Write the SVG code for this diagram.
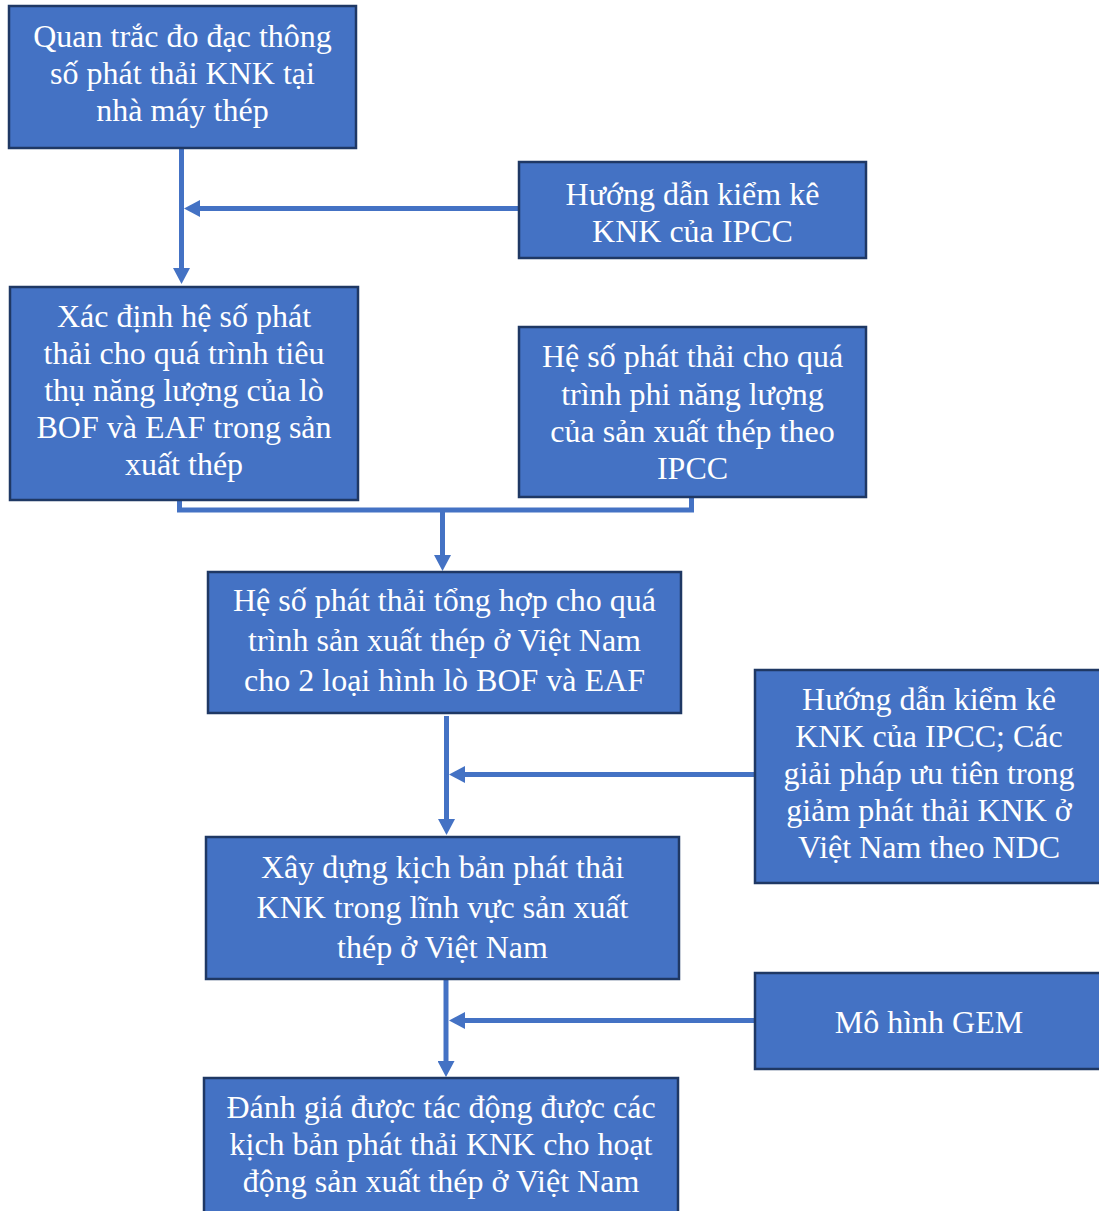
<svg xmlns="http://www.w3.org/2000/svg" width="1099" height="1211" viewBox="0 0 1099 1211">
  <style>
    .box { fill: #4472C4; stroke: #1F3864; stroke-width: 2.5; }
    .lbl { fill: #FFFFFF; font-family: "Liberation Serif", "Times New Roman", serif; font-size: 32px; text-anchor: middle; }
    .conn { fill: none; stroke: #4472C4; stroke-width: 5; }
  </style>
  <defs>
    <marker id="head" viewBox="0 0 16 17" refX="1" refY="8.5" markerWidth="16" markerHeight="17" markerUnits="userSpaceOnUse" orient="auto">
      <path d="M0,0 L16,8.5 L0,17 Z" fill="#4472C4"/>
    </marker>
  </defs>
  <rect width="1099" height="1211" fill="#FFFFFF"/>

  <g id="connectors">
    <line class="conn" x1="181.5" y1="149" x2="181.5" y2="269" marker-end="url(#head)"/>
    <line class="conn" x1="519" y1="208.5" x2="199" y2="208.5" marker-end="url(#head)"/>
    <path class="conn" d="M179.5,500 V510 H691.5 V498"/>
    <line class="conn" x1="442.5" y1="510" x2="442.5" y2="556" marker-end="url(#head)"/>
    <line class="conn" x1="446.5" y1="716" x2="446.5" y2="820" marker-end="url(#head)"/>
    <line class="conn" x1="755" y1="774.5" x2="464" y2="774.5" marker-end="url(#head)"/>
    <line class="conn" x1="446" y1="980" x2="446" y2="1062" marker-end="url(#head)"/>
    <line class="conn" x1="755" y1="1020.5" x2="464" y2="1020.5" marker-end="url(#head)"/>
  </g>

  <g id="quan-trac">
    <rect class="box" x="9" y="6" width="347" height="142"/>
    <text class="lbl"><tspan x="182.5" y="47">Quan trắc đo đạc thông</tspan><tspan x="182.5" y="84">số phát thải KNK tại</tspan><tspan x="182.5" y="121">nhà máy thép</tspan></text>
  </g>

  <g id="huong-dan-ipcc">
    <rect class="box" x="519" y="162" width="347" height="96"/>
    <text class="lbl"><tspan x="692.5" y="205">Hướng dẫn kiểm kê</tspan><tspan x="692.5" y="242">KNK của IPCC</tspan></text>
  </g>

  <g id="xac-dinh-he-so">
    <rect class="box" x="10" y="287" width="348" height="213"/>
    <text class="lbl"><tspan x="184" y="327">Xác định hệ số phát</tspan><tspan x="184" y="364">thải cho quá trình tiêu</tspan><tspan x="184" y="401">thụ năng lượng của lò</tspan><tspan x="184" y="438">BOF và EAF trong sản</tspan><tspan x="184" y="475">xuất thép</tspan></text>
  </g>

  <g id="he-so-phi-nang-luong">
    <rect class="box" x="519" y="327" width="347" height="170"/>
    <text class="lbl"><tspan x="692.5" y="367">Hệ số phát thải cho quá</tspan><tspan x="692.5" y="405">trình phi năng lượng</tspan><tspan x="692.5" y="442">của sản xuất thép theo</tspan><tspan x="692.5" y="479">IPCC</tspan></text>
  </g>

  <g id="he-so-tong-hop">
    <rect class="box" x="208" y="572" width="473" height="141"/>
    <text class="lbl"><tspan x="444.5" y="611">Hệ số phát thải tổng hợp cho quá</tspan><tspan x="444.5" y="651">trình sản xuất thép ở Việt Nam</tspan><tspan x="444.5" y="691">cho 2 loại hình lò BOF và EAF</tspan></text>
  </g>

  <g id="huong-dan-ndc">
    <rect class="box" x="755" y="670" width="350" height="213"/>
    <text class="lbl"><tspan x="929" y="710">Hướng dẫn kiểm kê</tspan><tspan x="929" y="747">KNK của IPCC; Các</tspan><tspan x="929" y="784">giải pháp ưu tiên trong</tspan><tspan x="929" y="821">giảm phát thải KNK ở</tspan><tspan x="929" y="858">Việt Nam theo NDC</tspan></text>
  </g>

  <g id="xay-dung-kich-ban">
    <rect class="box" x="206" y="837" width="473" height="142"/>
    <text class="lbl"><tspan x="442.5" y="878">Xây dựng kịch bản phát thải</tspan><tspan x="442.5" y="918">KNK trong lĩnh vực sản xuất</tspan><tspan x="442.5" y="958">thép ở Việt Nam</tspan></text>
  </g>

  <g id="mo-hinh-gem">
    <rect class="box" x="755" y="973" width="350" height="96"/>
    <text class="lbl" x="929" y="1033">Mô hình GEM</text>
  </g>

  <g id="danh-gia-tac-dong">
    <rect class="box" x="204" y="1078" width="474" height="145"/>
    <text class="lbl"><tspan x="441" y="1118">Đánh giá được tác động được các</tspan><tspan x="441" y="1155">kịch bản phát thải KNK cho hoạt</tspan><tspan x="441" y="1192">động sản xuất thép ở Việt Nam</tspan></text>
  </g>
</svg>
